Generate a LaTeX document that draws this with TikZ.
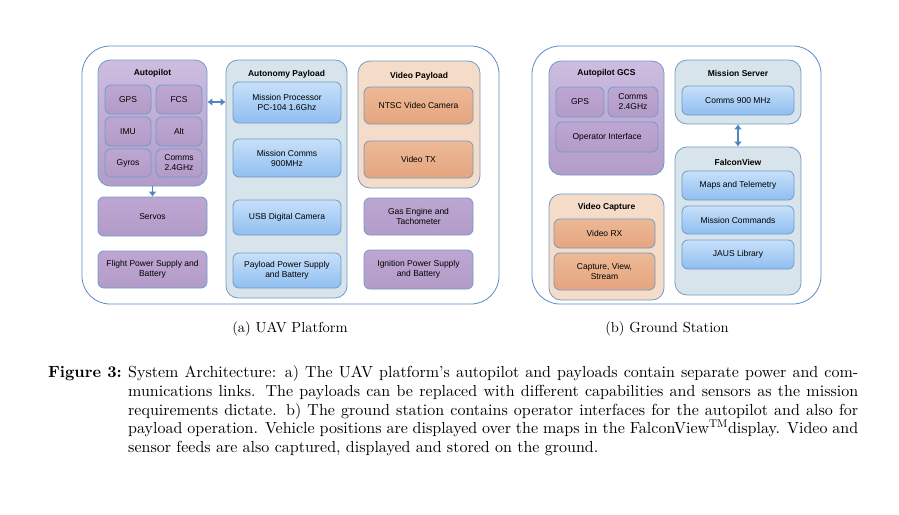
\documentclass[tikz,border=0pt]{standalone}
\usepackage{fontspec}
\setmainfont{lmroman10-regular.otf}[BoldFont=lmroman10-bold.otf, ItalicFont=lmroman10-italic.otf, BoldItalicFont=lmroman10-bolditalic.otf]
\newfontfamily\diag{Liberation Sans}
\usetikzlibrary{arrows.meta}
\definecolor{outerb}{HTML}{5B8CC4}
\definecolor{contb}{HTML}{6F9CC8}
\definecolor{purA}{HTML}{CDBDE0}
\definecolor{purB}{HTML}{B39CC9}
\definecolor{purIn}{HTML}{B39BC8}
\definecolor{purInT}{HTML}{BDA7D2}
\definecolor{grayc}{HTML}{D7E4EB}
\definecolor{blueT}{HTML}{C8E0FA}
\definecolor{blueB}{HTML}{8FBEF0}
\definecolor{peach}{HTML}{F4DCC9}
\definecolor{orT}{HTML}{EDB996}
\definecolor{orB}{HTML}{E5A57F}
\definecolor{arrowc}{HTML}{4F86C0}
\newcommand\mkbox[7]{\node[#2, minimum width={(#5-#3)*1pt}, minimum height={(#6-#4)*1pt}] (#1) at ({(#3+#5)/2},{(#4+#6)/2}) {#7};}
\tikzset{
  base/.style={draw, inner sep=0pt, align=center, font=\diag\fontsize{8.5}{10}\selectfont, line width=0.8pt},
  outerbox/.style={base, draw=outerb, fill=white, rounded corners=28pt},
  purcont/.style={base, draw=contb, top color=purA, bottom color=purB, rounded corners=12pt},
  graycont/.style={base, draw=contb, fill=grayc, rounded corners=12pt},
  peachcont/.style={base, draw=contb, fill=peach, rounded corners=12pt},
  purbox/.style={base, draw=contb, top color=purInT, bottom color=purIn, rounded corners=6pt},
  bluebox/.style={base, draw=contb, top color=blueT, bottom color=blueB, rounded corners=6pt},
  orbox/.style={base, draw=contb, top color=orT, bottom color=orB, rounded corners=6pt},
  title/.style={font=\diag\bfseries\fontsize{8.5}{10}\selectfont, inner sep=0pt},
  link/.style={draw=arrowc, line width=1.8pt, -{Latex[length=5pt,width=8pt]}},
  dlink/.style={draw=arrowc, line width=1.8pt, {Latex[length=5pt,width=8pt]}-{Latex[length=5pt,width=8pt]}},
  subcap/.style={font=\fontsize{14.5}{17}\selectfont, inner sep=0pt}
}
\begin{document}
\begin{tikzpicture}[x=1pt,y=-1pt]
\useasboundingbox (0,0) rectangle (899,514);
% outer containers
\mkbox{uav}{outerbox}{82}{46}{499}{304}{}
\mkbox{gs}{outerbox}{532}{46}{821}{304}{}
% Autopilot
\mkbox{ap}{purcont}{98}{60}{207}{186}{}
\node[title] (apt) at (152.5,73) {Autopilot};
\mkbox{gps}{purbox}{105}{85}{151}{114}{GPS}
\mkbox{fcs}{purbox}{156}{85}{202}{114}{FCS}
\mkbox{imu}{purbox}{105}{117}{151}{146}{IMU}
\mkbox{alt}{purbox}{156}{117}{202}{146}{Alt}
\mkbox{gyros}{purbox}{105}{149}{151}{177}{Gyros}
\mkbox{comms}{purbox}{156}{149}{202}{177}{Comms\\2.4GHz}
\mkbox{servos}{purbox}{98}{197}{207}{236}{Servos}
\mkbox{fps}{purbox}{98}{251}{207}{288}{Flight Power Supply and\\Battery}
% Autonomy payload
\mkbox{aut}{graycont}{226}{60}{347}{298}{}
\node[title] (autt) at (286.5,74) {Autonomy Payload};
\mkbox{mp}{bluebox}{233}{82}{341}{123}{Mission Processor\\PC-104 1.6Ghz}
\mkbox{mc}{bluebox}{233}{139}{341}{177}{Mission Comms\\900MHz}
\mkbox{usb}{bluebox}{233}{200}{341}{235}{USB Digital Camera}
\mkbox{pps}{bluebox}{233}{253}{341}{288}{Payload Power Supply\\and Battery}
% Video payload
\mkbox{vp}{peachcont}{358}{61}{480}{188}{}
\node[title] (vpt) at (419,76) {Video Payload};
\mkbox{ntsc}{orbox}{364}{87}{473}{124}{NTSC Video Camera}
\mkbox{vtx}{orbox}{364}{141}{473}{178}{Video TX}
\mkbox{gas}{purbox}{364}{198}{473}{235}{Gas Engine and\\Tachometer}
\mkbox{ign}{purbox}{364}{250}{473}{289}{Ignition Power Supply\\and Battery}
% Ground station: Autopilot GCS
\mkbox{agcs}{purcont}{549}{61}{664}{175}{}
\node[title] (agcst) at (606.5,73) {Autopilot GCS};
\mkbox{gps2}{purbox}{556}{87}{604}{117}{GPS}
\mkbox{comms2}{purbox}{608}{87}{658}{117}{Comms\\2.4GHz}
\mkbox{opi}{purbox}{556}{122}{658}{152}{Operator Interface}
% Video capture
\mkbox{vc}{peachcont}{549}{194}{664}{300}{}
\node[title] (vct) at (606.5,207) {Video Capture};
\mkbox{vrx}{orbox}{554}{219}{655}{248}{Video RX}
\mkbox{cvs}{orbox}{554}{253}{655}{290}{Capture, View,\\Stream}
% Mission server
\mkbox{ms}{graycont}{675}{60}{801}{124}{}
\node[title] (mst) at (738,73) {Mission Server};
\mkbox{c900}{bluebox}{682}{86}{794}{115}{Comms 900 MHz}
% FalconView
\mkbox{fv}{graycont}{675}{147}{801}{295}{}
\node[title] (fvt) at (738,162) {FalconView};
\mkbox{maps}{bluebox}{682}{171}{794}{200}{Maps and Telemetry}
\mkbox{mcmd}{bluebox}{682}{206}{794}{234}{Mission Commands}
\mkbox{jaus}{bluebox}{682}{240}{794}{269}{JAUS Library}
% connectors
\coordinate (fcsa) at ([yshift=-2.5pt]fcs.east);
\draw[dlink] (fcsa -| ap.east) -- (fcsa -| aut.west);
\draw[link] (ap.south) -- (servos.north);
\draw[dlink] (ms.south) -- (fv.north);
% sub captions
\node[subcap] (capa) at (290,329) {(a) UAV Platform};
\node[subcap] (capb) at (667,329) {(b) Ground Station};
% caption
\node[anchor=base west, inner sep=0pt, font=\fontsize{16.25}{18.75}\selectfont] (figl) at (48,377) {\textbf{Figure 3:}};
\node[anchor=north west, inner sep=0pt, text width=730pt, align=justify, font=\fontsize{16}{18.75}\selectfont] (body) at (128,365.5) {System Architecture: a) The UAV platform's autopilot and payloads contain separate power and com-\linebreak munications links. The payloads can be replaced with different capabilities and sensors as the mission\linebreak requirements dictate. b) The ground station contains operator interfaces for the autopilot and also for\linebreak payload operation. Vehicle positions are displayed over the maps in the FalconView\textsuperscript{TM}display. Video and\linebreak sensor feeds are also captured, displayed and stored on the ground.};
\end{tikzpicture}
\end{document}
